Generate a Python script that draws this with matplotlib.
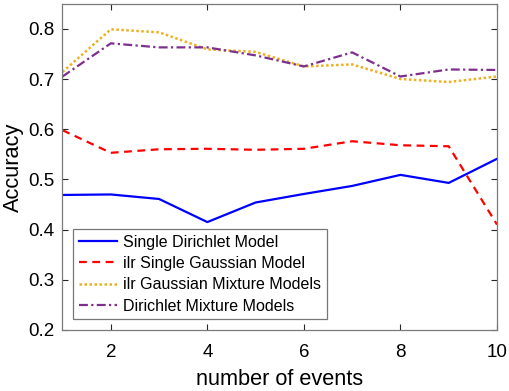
import matplotlib
matplotlib.use("Agg")
import matplotlib.pyplot as plt

events = [1, 2, 3, 4, 5, 6, 7, 8, 9, 10]
single_dirichlet = [0.469, 0.470, 0.461, 0.415, 0.454, 0.471, 0.487, 0.509, 0.493, 0.541]
ilr_single_gauss = [0.598, 0.553, 0.560, 0.561, 0.559, 0.561, 0.576, 0.568, 0.566, 0.410]
ilr_gmm = [0.714, 0.799, 0.793, 0.759, 0.754, 0.725, 0.729, 0.700, 0.694, 0.705]
dirichlet_mm = [0.705, 0.771, 0.763, 0.763, 0.747, 0.725, 0.753, 0.705, 0.719, 0.718]
labels = ["Single Dirichlet Model", "ilr Single Gaussian Model",
          "ilr Gaussian Mixture Models", "Dirichlet Mixture Models"]
xticks = [2, 4, 6, 8, 10]
yticks = [0.2, 0.3, 0.4, 0.5, 0.6, 0.7, 0.8]

plt.rcParams['font.family'] = ['Liberation Sans', 'DejaVu Sans']

fig = plt.figure(figsize=(5.10, 3.91), dpi=100)
ax = fig.add_axes([62.5/510, 61/391, (497-62.5)/510, (330-3.7)/391])

lw = 1.6
ax.plot(events, single_dirichlet, color='#0000ff', lw=lw, ls='-', label=labels[0])
ax.plot(events, ilr_single_gauss, color='#ff0000', lw=lw, dashes=(3.5, 2.5), label=labels[1])
ax.plot(events, ilr_gmm, color='#EDB120', lw=lw + 0.2, dashes=(1, 1), label=labels[2])
ax.plot(events, dirichlet_mm, color='#7E2F8E', lw=lw, dashes=(4, 1.5, 1, 1.5), label=labels[3])

ax.set_xlim(1, 10)
ax.set_ylim(0.2, 0.85)
ax.set_xticks(xticks)
ax.set_yticks(yticks)
ax.set_yticklabels([f"{v:.1f}" for v in yticks])
ax.tick_params(direction='in', top=True, right=True, length=4, width=0.8,
               labelsize=13.5, colors='#262626', labelcolor='black')
ax.tick_params(axis='x', pad=10)
ax.tick_params(axis='y', pad=6)
for s in ax.spines.values():
    s.set_color('#7a7a7a')
    s.set_linewidth(0.9)
ax.set_xlabel("number of events", fontsize=15.7, labelpad=6)
ax.set_ylabel("Accuracy", fontsize=15.7, labelpad=3)

leg = ax.legend(loc='lower left', bbox_to_anchor=(11/434.5, 10.7/326.3),
                fontsize=11.5, frameon=True, fancybox=False, borderaxespad=0,
                handlelength=2.4, handletextpad=0.37, labelspacing=0.4,
                borderpad=0.35)
leg.get_frame().set_edgecolor('#555555')
leg.get_frame().set_linewidth(0.9)

fig.savefig("out.png", dpi=100)
